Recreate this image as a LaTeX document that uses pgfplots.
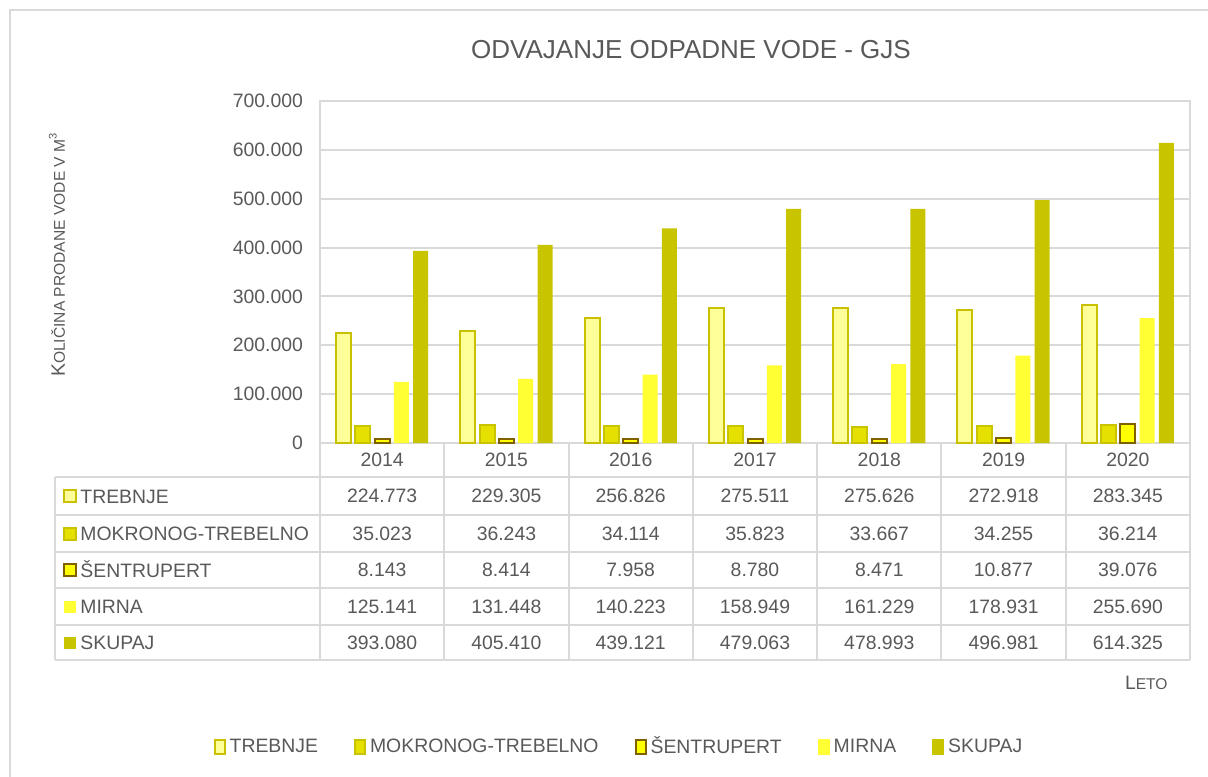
\documentclass[border=0pt]{standalone}
\usepackage{pgfplots}
\pgfplotsset{compat=1.18}
\usepackage{fontspec}
\setmainfont{Liberation Sans}
\definecolor{txt}{HTML}{595959}
\definecolor{gridc}{HTML}{D9D9D9}
\definecolor{cTre}{HTML}{FFFF99}
\definecolor{cTreB}{HTML}{C8C000}
\definecolor{cMok}{HTML}{E6E000}
\definecolor{cMokB}{HTML}{C8C400}
\definecolor{cSen}{HTML}{FFFF00}
\definecolor{cSenB}{HTML}{806000}
\definecolor{cMir}{HTML}{FFFF33}
\definecolor{cSku}{HTML}{C8C400}
\newcommand{\f}{\fontsize{9.7}{11.6}\selectfont}
\newcommand{\fs}{\fontsize{7.8}{9.4}\selectfont}
\tikzset{
 sTre/.style={fill=cTre,draw=cTreB,line width=1pt},
 sMok/.style={fill=cMok,draw=cMokB,line width=1pt},
 sSen/.style={fill=cSen,draw=cSenB,line width=1pt},
 sMir/.style={fill=cMir,draw=none},
 sSku/.style={fill=cSku,draw=none},
}
\begin{document}
\begin{tikzpicture}[x=0.5pt,y=-0.5pt]
\clip (0,0) rectangle (1208,776);
\draw[gridc,line width=1pt] (10,10) rectangle (1260,830);
\begin{axis}[
  at={(160pt,-221.5pt)}, anchor=south west,
  width=435pt, height=171pt, scale only axis,
  xmin=-0.5, xmax=6.5, ymin=0, ymax=700000,
  xtick=\empty,
  ytick={0,100000,200000,300000,400000,500000,600000,700000},
  scaled y ticks=false,
  yticklabel style={/pgf/number format/1000 sep={.},/pgf/number format/fixed,/pgf/number format/assume math mode=true,xshift=-5pt},
  tick label style={font=\f, text=txt},
  tick style={draw=none},
  axis line style={gridc,line width=1pt},
  ymajorgrids, major grid style={gridc,line width=1pt},
  ybar=2.15pt, bar width=7.5pt,
  legend columns=5,
  legend style={at={(0.3448,-0.8889)}, anchor=center, draw=none, fill=none,
    font=\f, text=txt, /tikz/every even column/.append style={column sep=16pt}},
]
\addplot[sTre] coordinates {(0,224773) (1,229305) (2,256826) (3,275511) (4,275626) (5,272918) (6,283345)};
\addplot[sMok] coordinates {(0,35023) (1,36243) (2,34114) (3,35823) (4,33667) (5,34255) (6,36214)};
\addplot[sSen] coordinates {(0,8143) (1,8414) (2,7958) (3,8780) (4,8471) (5,10877) (6,39076)};
\addplot[sMir] coordinates {(0,125141) (1,131448) (2,140223) (3,158949) (4,161229) (5,178931) (6,255690)};
\addplot[sSku] coordinates {(0,393080) (1,405410) (2,439121) (3,479063) (4,478993) (5,496981) (6,614325)};
\addlegendimage{legend image code/.code={\path[sTre] (0pt,-3.3pt) rectangle (5pt,3.3pt);}}
\addlegendimage{legend image code/.code={\path[sMok] (0pt,-3.3pt) rectangle (5pt,3.3pt);}}
\addlegendimage{legend image code/.code={\path[sSen] (0pt,-3.3pt) rectangle (5pt,3.3pt);}}
\addlegendimage{legend image code/.code={\path[sMir] (-0.5pt,-3.8pt) rectangle (5.5pt,3.8pt);}}
\addlegendimage{legend image code/.code={\path[sSku] (-0.5pt,-3.8pt) rectangle (5.5pt,3.8pt);}}
\legend{,,,,,TREBNJE,MOKRONOG-TREBELNO,ŠENTRUPERT,MIRNA,SKUPAJ}
\end{axis}
% title
\node[text=txt,font=\fontsize{13}{15}\selectfont] at (691,50) {ODVAJANJE ODPADNE VODE - GJS};
% y label
\node[text=txt,rotate=90] at (57,255) {{\f K}{\fs OLIČINA PRODANE VODE V M}\raisebox{0.8ex}{\fontsize{5.5}{6}\selectfont 3}};
% table grid
\begin{scope}[gridc,line width=1pt]
\foreach \y in {477,515,552,588,625,660} \draw (55,\y) -- (1190,\y);
\draw (55,477) -- (55,660);
\foreach \i in {0,...,7} \draw ({320+124.2857*\i},443) -- ({320+124.2857*\i},660);
\end{scope}
% headers
\foreach \yr [count=\i from 0] in {2014,2015,2016,2017,2018,2019,2020}
  \node[text=txt,font=\f] at ({382.14+124.2857*\i},460) {\yr};
% rows
\foreach \lab/\st/\yy in {TREBNJE/sTre/496,MOKRONOG-TREBELNO/sMok/533.5,ŠENTRUPERT/sSen/570,MIRNA/sMir/606.5,SKUPAJ/sSku/642.5}{
  \path[\st] (64,\yy-6) rectangle (76,\yy+6);
  \node[text=txt,font=\f,anchor=base west,inner sep=0pt] at (80,\yy+7) {\lab};
}
\foreach \v [count=\i from 0] in {224.773,229.305,256.826,275.511,275.626,272.918,283.345}
  \node[text=txt,font=\f] at ({382.14+124.2857*\i},496) {\v};
\foreach \v [count=\i from 0] in {35.023,36.243,34.114,35.823,33.667,34.255,36.214}
  \node[text=txt,font=\f] at ({382.14+124.2857*\i},533.5) {\v};
\foreach \v [count=\i from 0] in {8.143,8.414,7.958,8.780,8.471,10.877,39.076}
  \node[text=txt,font=\f] at ({382.14+124.2857*\i},570) {\v};
\foreach \v [count=\i from 0] in {125.141,131.448,140.223,158.949,161.229,178.931,255.690}
  \node[text=txt,font=\f] at ({382.14+124.2857*\i},606.5) {\v};
\foreach \v [count=\i from 0] in {393.080,405.410,439.121,479.063,478.993,496.981,614.325}
  \node[text=txt,font=\f] at ({382.14+124.2857*\i},642.5) {\v};
% x label
\node[text=txt,anchor=east,inner sep=0pt] at (1168,683) {{\f L}{\fs ETO}};
\end{tikzpicture}
\end{document}
